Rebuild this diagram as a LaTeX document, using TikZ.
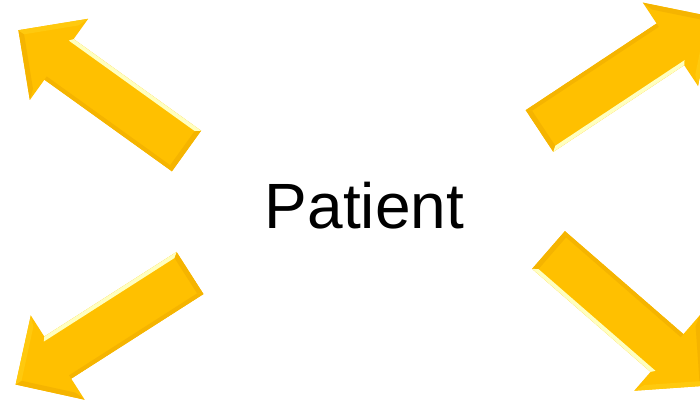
\documentclass[tikz,border=0pt]{standalone}
\usepackage{fontspec}
\setmainfont{Liberation Sans}
\definecolor{arrowfill}{HTML}{FFC000}
\definecolor{arrowlight}{HTML}{FFFFC0}
\definecolor{arrowdark}{HTML}{F5B400}
\definecolor{arrowmid}{HTML}{FFC90E}
\tikzset{
  bigarrow/.pic={
    \fill[arrowfill] (0,-25) -- (157,-25) -- (157,-50) -- (207,0) -- (157,50) -- (157,25) -- (0,25) -- cycle;
    % darker bevel along the left edge and the head edges
    \fill[arrowdark] (0,25) -- (157,25) -- (157,21) -- (5,21) -- cycle;
    \fill[arrowdark] (157,50) -- (207,0) -- (200,0) -- (161,39) -- cycle;
    \fill[arrowdark] (0,25) -- (0,-25) -- (5,-21) -- (5,21) -- cycle;
    % light highlight along the right edge
    \fill[arrowlight] (0,-25) -- (157,-25) -- (160,-21) -- (5,-21) -- cycle;
    \fill[arrowmid] (157,-50) -- (207,0) -- (200,0) -- (161,-39) -- cycle;
  }
}
\begin{document}
\begin{tikzpicture}[x=1pt,y=1pt]
\useasboundingbox (0,0) rectangle (700,400);
\fill[white] (0,0) rectangle (700,400);
\clip (0,0) rectangle (700,400);
\pic[rotate=144.3] at (186.5,249) {bigarrow};
\pic[rotate=33.5] at (539.5,269) {bigarrow};
\pic[rotate=212.6] at (190,127) {bigarrow};
\pic[rotate=-41] at (548.5,150) {bigarrow};
\node[inner sep=0pt, anchor=base, font=\fontsize{64}{70}\selectfont] (patient) at (364.5,172) {Patient};
\end{tikzpicture}
\end{document}
